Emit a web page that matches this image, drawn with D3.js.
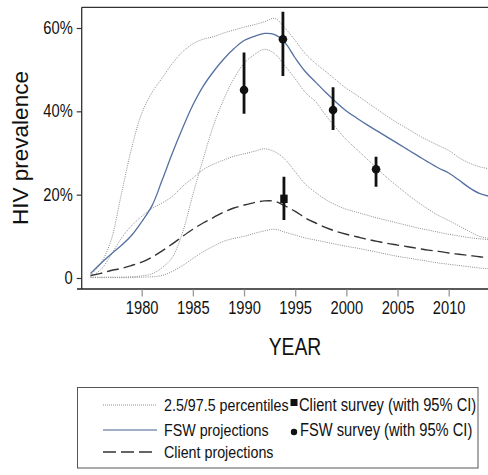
<!DOCTYPE html>
<html><head><meta charset="utf-8">
<script src="https://cdn.jsdelivr.net/npm/d3@7"></script>
<style>
body{margin:0;background:#fff}
svg{display:block}
text{font-family:"Liberation Sans",Arial,Helvetica,sans-serif}
</style></head>
<body>
<svg id="chart" width="488" height="475"></svg>
<script>
// ---- data ----
const years = d3.range(1975, 2015);
const fswProj = [1.1,3.5,5.7,7.8,10.2,13.5,17.3,23.5,30,36,41.5,46,49.5,52.5,55,57,58,58.7,58.4,56.5,52.8,49.5,47,44.5,42.2,40.1,38.4,36.8,35.3,33.8,32.3,30.8,29.3,27.8,26.4,25.2,23.5,21.7,20.3,19.6];
const fswUpper = [0.7,3.5,9,20,31,39.5,44.5,48,51.5,54.3,56.2,57.3,57.9,58.8,59.5,60.2,60.8,61.5,62.3,60,57,53.8,51.5,49.5,47.5,45.5,43.9,42.2,40.5,38.8,37.2,35.8,34.3,33,31.8,30.6,28.9,27.6,26.7,26.2];
const fswLower = [0.2,0.2,0.2,0.2,0.3,0.5,1,2.5,5,11,20,28.5,36.5,42.8,47.8,51.5,53.6,54.9,53.8,50.9,47.8,44.5,42.3,39,36,33.2,30.9,28.6,26.3,24,22,20,18.2,16.5,15,13.8,12.5,11.2,10,9.5];
const clientProj = [0.6,1.1,1.8,2.3,3,3.8,5,6.5,8.2,10,11.7,13.2,14.5,15.8,16.8,17.5,18.1,18.5,18.4,17.3,16,14.4,13.2,12.1,11.2,10.5,9.9,9.3,8.8,8.3,7.9,7.5,7.1,6.7,6.4,6,5.7,5.4,5.1,4.9];
const clientUpper = [0.3,2,5.5,9.5,12.5,14.8,16.7,18,19.6,22,24,26,27.3,28.3,29.2,29.8,30.4,31,30.3,28.5,25.5,22.5,20.5,18.8,17.5,16.5,15.8,15.1,14.4,13.8,13.2,12.6,12,11.5,11,10.5,10.1,9.7,9.4,9.2];
const clientLower = [0.1,0.1,0.1,0.1,0.1,0.2,0.3,0.6,1.6,3,4.7,6.3,7.6,8.8,9.5,10,10.7,11.3,11.7,11,10.3,9.6,9.1,8.6,8.1,7.6,7.2,6.7,6.2,5.7,5.2,4.8,4.4,4,3.6,3.3,3,2.7,2.4,2.2];
const fswSurveyYear = [1990, 1993.8, 1998.7, 2002.9];
const fswSurveyVal  = [45.1, 57.3, 40.3, 26.1];
const fswSurveyLo   = [39.4, 48.5, 35.5, 21.9];
const fswSurveyHi   = [54.1, 63.9, 45.8, 29.1];
const clientSurveyYear = [1993.9];
const clientSurveyVal  = [19.0];
const clientSurveyLo   = [13.9];
const clientSurveyHi   = [24.3];
const xTicks = [1980, 1985, 1990, 1995, 2000, 2005, 2010];
const yTicks = [0, 20, 40, 60];
const yTickLabels = ["0", "20%", "40%", "60%"];
const legendLeft = ["2.5/97.5 percentiles", "FSW projections", "Client projections"];
const legendRight = ["Client survey (with 95% CI)", "FSW survey (with 95% CI)"];

// ---- layout ----
const NARROW = 0.84;
const svg = d3.select("#chart");
const L = 81.7, T = 7.3, R = 488, B = 289;
const x = d3.scaleLinear().domain([1980, 2010]).range([141.7, 448.7]);
const y = d3.scaleLinear().domain([0, 60]).range([278, 28]);

function narrowText(px, py, str, size, anchor) {
  return svg.append("text")
    .attr("transform", `translate(${px},${py}) scale(${NARROW},1)`)
    .attr("text-anchor", anchor || "start")
    .attr("font-size", size).attr("fill", "#111").text(str);
}

svg.append("clipPath").attr("id","clip").append("rect")
  .attr("x", L).attr("y", T).attr("width", R - L).attr("height", B - T);

// frame
svg.append("line").attr("x1", L).attr("x2", R).attr("y1", T).attr("y2", T)
  .attr("stroke", "#333").attr("stroke-width", 1.3);
svg.append("line").attr("x1", L).attr("x2", L).attr("y1", T).attr("y2", B)
  .attr("stroke", "#333").attr("stroke-width", 1.3);
svg.append("line").attr("x1", 77).attr("x2", R).attr("y1", B).attr("y2", B)
  .attr("stroke", "#222").attr("stroke-width", 1.6);

// y axis
const yAxis = d3.axisLeft(y).tickValues(yTicks).tickSize(5).tickPadding(3)
  .tickFormat((d, i) => yTickLabels[i]);
const gy = svg.append("g").attr("transform", `translate(${L},0)`).call(yAxis);
gy.select(".domain").remove();
gy.selectAll(".tick line").attr("stroke", "#333").attr("stroke-width", 1.2);
gy.selectAll(".tick text").attr("font-size", 17.5).attr("fill", "#111")
  .attr("x", -9 / NARROW).attr("transform", `scale(${NARROW},1)`);

// x axis
const xAxis = d3.axisBottom(x).tickValues(xTicks).tickSize(7).tickPadding(5).tickFormat(d3.format("d"));
const gx = svg.append("g").attr("transform", `translate(0,${B + 0.5})`).call(xAxis);
gx.select(".domain").remove();
gx.selectAll(".tick line").attr("stroke", "#999").attr("stroke-width", 1.3);
gx.selectAll(".tick text").attr("font-size", 17.5).attr("fill", "#111")
  .attr("transform", `scale(${NARROW},1)`);

// axis titles
svg.append("text").attr("transform", "translate(28,148) rotate(-90)")
  .attr("text-anchor", "middle").attr("font-size", 22.5).attr("fill", "#111").text("HIV prevalence");
narrowText(295, 355, "YEAR", 23, "middle");

// curves
const plot = svg.append("g").attr("clip-path", "url(#clip)");
const line = d3.line().x((d, i) => x(years[i])).y(d => y(d)).curve(d3.curveCatmullRom.alpha(0.5));
[fswUpper, fswLower, clientUpper, clientLower].forEach(s => {
  plot.append("path").attr("d", line(s)).attr("fill", "none")
    .attr("stroke", "#8c8c8c").attr("stroke-width", 1).attr("stroke-dasharray", "1,1.2");
});
plot.append("path").attr("d", line(clientProj)).attr("fill", "none")
  .attr("stroke", "#333").attr("stroke-width", 1.4).attr("stroke-dasharray", "12,5");
plot.append("path").attr("d", line(fswProj)).attr("fill", "none")
  .attr("stroke", "#5470a0").attr("stroke-width", 1.3);

// survey points
fswSurveyYear.forEach((yr, i) => {
  plot.append("line").attr("x1", x(yr)).attr("x2", x(yr))
    .attr("y1", y(fswSurveyLo[i])).attr("y2", y(fswSurveyHi[i]))
    .attr("stroke", "#111").attr("stroke-width", 2.8);
  plot.append("circle").attr("cx", x(yr)).attr("cy", y(fswSurveyVal[i])).attr("r", 4.3).attr("fill", "#111");
});
clientSurveyYear.forEach((yr, i) => {
  plot.append("line").attr("x1", x(yr)).attr("x2", x(yr))
    .attr("y1", y(clientSurveyLo[i])).attr("y2", y(clientSurveyHi[i]))
    .attr("stroke", "#111").attr("stroke-width", 2.8);
  plot.append("rect").attr("x", x(yr) - 3.7).attr("y", y(clientSurveyVal[i]) - 4.2)
    .attr("width", 7.4).attr("height", 8.4).attr("fill", "#111");
});

// legend
svg.append("rect").attr("x", 77.5).attr("y", 387.5).attr("width", 400.5).attr("height", 80.5)
  .attr("fill", "none").attr("stroke", "#555").attr("stroke-width", 1);
const rowY = [405, 430, 452];
const styles = [
  {stroke: "#8c8c8c", "stroke-width": 1, "stroke-dasharray": "1,1"},
  {stroke: "#3f6190", "stroke-width": 1.2},
  {stroke: "#333", "stroke-width": 1.3, "stroke-dasharray": "13,5"}
];
legendLeft.forEach((lab, i) => {
  const l = svg.append("line").attr("x1", 103).attr("x2", 157).attr("y1", rowY[i]).attr("y2", rowY[i]);
  Object.entries(styles[i]).forEach(([k, v]) => l.attr(k, v));
  narrowText(164, rowY[i] + 6, lab, 17);
});
svg.append("rect").attr("x", 290.5).attr("y", 399).attr("width", 7).attr("height", 7).attr("fill", "#111");
narrowText(299, rowY[0] + 6, legendRight[0], 17.5);
svg.append("circle").attr("cx", 294).attr("cy", 432).attr("r", 3.2).attr("fill", "#111");
narrowText(300, rowY[1] + 6, legendRight[1], 17.5);
</script>
</body></html>
